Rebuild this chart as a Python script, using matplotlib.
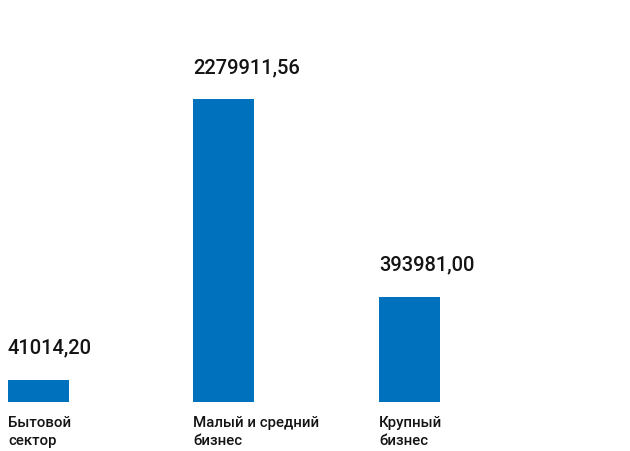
import matplotlib
matplotlib.use('Agg')
import matplotlib.pyplot as plt

plt.rcParams['font.family'] = ['Roboto', 'DejaVu Sans']

# данные
categories = ['Бытовой\nсектор', 'Малый и средний\nбизнес', 'Крупный\nбизнес']
values = [41014.20, 2279911.56, 393981.00]
# длины столбцов на исходной картинке (не в масштабе значений), % от самого высокого
bar_heights = [7.3, 100.0, 34.7]

BAR_COLOR = '#0071BC'
TEXT_COLOR = '#141414'

fig = plt.figure(figsize=(6.3, 4.52), dpi=100)
ax = fig.add_axes([0, 49 / 452, 1, 403 / 452])

x = list(range(len(categories)))
width = 0.329
ax.bar(x, bar_heights, width=width, color=BAR_COLOR, linewidth=0)

ax.set_xlim(-0.2075, 3.189)
ax.set_ylim(0, 133)
ax.axis('off')

for xi, h, v, cat in zip(x, bar_heights, values, categories):
    label = f'{v:.2f}'.replace('.', ',')
    ax.annotate(label, xy=(xi - width / 2, h), xytext=(0, 19.5),
                textcoords='offset points', ha='left', va='baseline',
                fontsize=14.5, color=TEXT_COLOR, fontweight='medium')
    ax.annotate(cat, xy=(xi - width / 2, 0), xytext=(0, -9.5),
                textcoords='offset points', ha='left', va='top',
                fontsize=10.8, color=TEXT_COLOR, fontweight='medium',
                linespacing=1.35, annotation_clip=False)

fig.savefig('out.png', dpi=100, facecolor='white')
